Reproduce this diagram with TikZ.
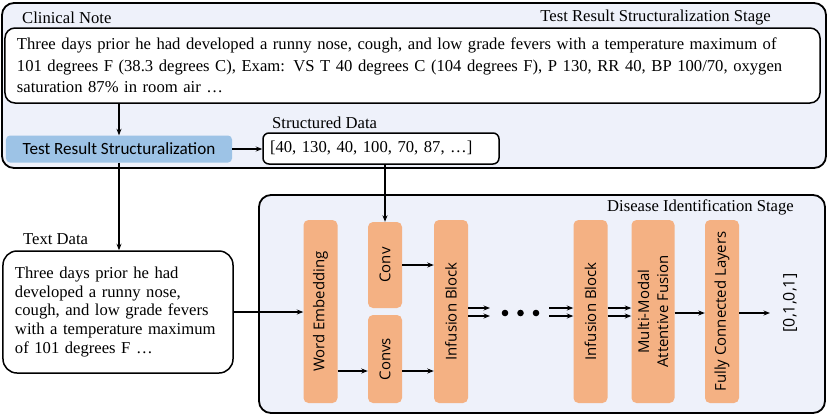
\documentclass[tikz,border=0pt]{standalone}
\usepackage{fontspec}
\setmainfont{Liberation Serif}
\newfontfamily\calfont{Carlito}
\newfontfamily\osfont{Open Sans}
\usetikzlibrary{arrows.meta,calc}
\definecolor{stagebg}{HTML}{EEF1FA}
\definecolor{bluebox}{HTML}{9DC3E6}
\definecolor{orangebox}{HTML}{F4B183}
\begin{document}
\begin{tikzpicture}[x=1bp,y=-1bp,
  stage/.style={draw=black, line width=1.8bp, fill=stagebg, rounded corners=12bp, inner sep=0pt},
  wbox/.style={draw=black, line width=1.5bp, fill=white, rounded corners=10bp, inner sep=0pt},
  bbox/.style={fill=bluebox, rounded corners=4bp, inner sep=0pt, minimum width=226bp, minimum height=27bp, font=\calfont\fontsize{17.2}{20}\selectfont},
  obox/.style={fill=orangebox, rounded corners=5bp, inner sep=0pt, minimum width=34bp},
  otext/.style={rotate=90, font=\osfont\fontsize{15}{19}\selectfont, align=center, inner sep=0pt},
  lbl/.style={inner sep=0pt, font=\fontsize{16.7}{20}\selectfont},
  arr/.style={-{Stealth[length=6.5bp,width=5bp]}, line width=1.5bp},
]
\useasboundingbox (0,0) rectangle (830,416);

% stages
\node[stage, minimum width=824bp, minimum height=165bp] (top) at (414,85.5) {};
\node[stage, minimum width=566bp, minimum height=218bp] (bot) at (542,304) {};

% labels
\node[lbl, anchor=base west] (lcn) at (22,23) {Clinical Note};
\node[lbl, anchor=base east] (ltop) at (771,21.5) {Test Result Structuralization Stage};
\node[lbl, anchor=base west] (lsd) at (272,128.5) {Structured Data};
\node[lbl, anchor=base west] (ltd) at (23,244) {Text Data};
\node[lbl, anchor=base east] (lbot) at (794,211.5) {Disease Identification Stage};

% clinical note
\node[wbox, minimum width=815bp, minimum height=75bp, text width=791bp, align=left,
  font=\fontsize{16.7}{21.5}\selectfont] (cn) at (412.5,65.5)
  {Three days prior he had developed a runny nose, cough, and low grade fevers with a temperature maximum of\\
   101 degrees F (38.3 degrees C), Exam: VS T 40 degrees C (104 degrees F), P 130, RR 40, BP 100/70, oxygen\\
   saturation 87\% in room air \dots};

\node[bbox] (trs) at (119,149) {Test Result Structuralization};
\node[wbox, rounded corners=6bp, minimum width=236bp, minimum height=31bp, text width=222bp, align=left,
  font=\fontsize{16.7}{20}\selectfont] (sd) at (381,148.5) {[40, 130, 40, 100, 70, 87, \dots]};

% text data
\node[wbox, rounded corners=14bp, minimum width=230bp, minimum height=122bp, text width=206bp, align=left,
  font=\fontsize{16.7}{18.9}\selectfont] (td) at (118,312)
  {Three days prior he had\\developed a runny nose,\\cough, and low grade fevers\\with a temperature maximum\\of 101 degrees F \dots};

% orange blocks
\node[obox, minimum height=183bp] (we) at (320.5,311.5) {};
\node[otext] (twe) at (we) {Word Embedding};
\node[obox, minimum height=86bp] (conv) at (385,265) {};
\node[otext] (tconv) at (conv) {Conv};
\node[obox, minimum height=88bp] (convs) at (385,359) {};
\node[otext] (tconvs) at (convs) {Convs};
\node[obox, minimum height=183bp] (inf1) at (451,311.5) {};
\node[otext] (tinf1) at (inf1) {Infusion Block};
\node[obox, minimum height=183bp] (inf2) at (590.5,311.5) {};
\node[otext] (tinf2) at (inf2) {Infusion Block};
\node[obox, minimum width=43bp, minimum height=183bp] (mmaf) at (653,311.5) {};
\node[otext] (tmmaf) at (mmaf) {Multi-Modal\\Attentive Fusion};
\node[obox, minimum height=183bp] (fc) at (722,311.5) {};
\node[otext] (tfc) at (fc) {Fully Connected Layers};
\node[otext, font=\osfont\fontsize{16}{19}\selectfont] (out) at (790,303) {[0,1,0,1]};

% dots
\fill (505,313) circle (3.3bp) (520.5,313) circle (3.3bp) (536,313) circle (3.3bp);
\coordinate (d1a) at (490,308);
\coordinate (d1b) at (490,316);
\coordinate (d2a) at (549,308);
\coordinate (d2b) at (549,316);
\coordinate (oend) at (770,313);

% connectors
\draw[arr] (trs.north |- cn.south) -- (trs.north);
\draw[arr] (trs.east) -- (trs.east -| sd.west);
\draw[arr] (trs.south) -- (trs.south |- td.north);
\draw[arr] (conv.north |- sd.south) -- (conv.north);
\draw[arr] (td.east) -- (td.east -| we.west);
\draw[arr] ([yshift=-12bp]we.east |- convs.west) -- ([yshift=-12bp]convs.west);
\draw[arr] (conv.east) -- (conv.east -| inf1.west);
\draw[arr] ([yshift=-12bp]convs.east) -- ([yshift=-12bp]convs.east -| inf1.west);
\draw[arr] (inf1.east |- d1a) -- (d1a);
\draw[arr] (inf1.east |- d1b) -- (d1b);
\draw[arr] (d2a) -- (d2a -| inf2.west);
\draw[arr] (d2b) -- (d2b -| inf2.west);
\draw[arr] (inf2.east |- d1a) -- (d1a -| mmaf.west);
\draw[arr] (inf2.east |- d1b) -- (d1b -| mmaf.west);
\draw[arr] (mmaf.east |- oend) -- (oend -| fc.west);
\draw[arr] (fc.east |- oend) -- (oend);
\end{tikzpicture}
\end{document}
